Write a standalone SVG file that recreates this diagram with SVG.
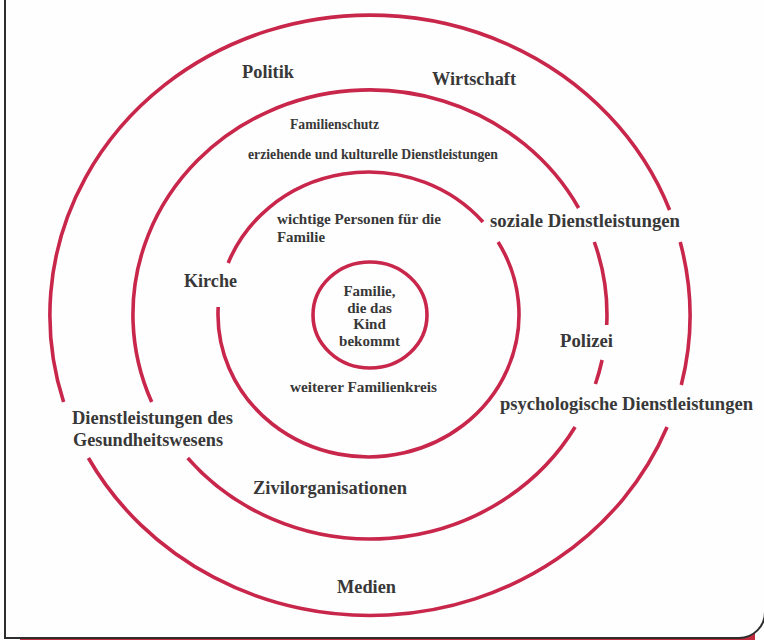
<svg xmlns="http://www.w3.org/2000/svg" width="764" height="640" viewBox="0 0 764 640">
  <style>
    .ring { fill: none; stroke: #c8274b; stroke-width: 3.6; stroke-linecap: butt; }
    .lbl { font-family: "Liberation Serif", "Times New Roman", serif; font-weight: bold; fill: #383838; }
    .lg { font-size: 18.5px; }
    .md { font-size: 15px; }
    .sm { font-size: 13.7px; }
  </style>
  <rect x="0" y="0" width="764" height="640" fill="#ffffff"/>
  <rect x="20" y="626" width="735" height="14" fill="#c22a3e"/>
  <path d="M5,-5 H765 V612 A26,26 0 0 1 739,638 H5 Z" fill="#fefefe" stroke="#2e2e2e" stroke-width="2"/>

  <g id="rings">
    <g id="ring-outer">
      <path class="ring" d="M667.1,427 A320,300 0 0 1 88.4,458"/>
      <path class="ring" d="M63.6,402 A320,300 0 0 1 669.6,210"/>
      <path class="ring" d="M680.2,242 A320,300 0 0 1 681.3,385"/>
    </g>
    <g id="ring-second">
      <path class="ring" d="M575.1,427 A237,224.5 0 0 1 187.7,458"/>
      <path class="ring" d="M151.7,402 A237,224.5 0 0 1 578.6,208"/>
      <path class="ring" d="M594.3,242 A237,224.5 0 0 1 606.7,325"/>
      <path class="ring" d="M602.1,360 A237,224.5 0 0 1 595.4,384"/>
    </g>
    <g id="ring-third">
      <path class="ring" d="M498.1,242 A150.5,142.5 0 1 1 218.2,307"/>
      <path class="ring" d="M228.2,263 A150.5,142.5 0 0 1 483,222"/>
    </g>
    <g id="ring-inner">
      <ellipse class="ring" cx="370" cy="315" rx="57" ry="53"/>
    </g>
  </g>

  <g id="connectors"></g>

  <g id="node-familie">
    <text class="lbl md" text-anchor="middle" x="369.5" y="296">Familie,</text>
    <text class="lbl md" text-anchor="middle" x="369.5" y="312.5">die das</text>
    <text class="lbl md" text-anchor="middle" x="369.5" y="329">Kind</text>
    <text class="lbl md" text-anchor="middle" x="369.5" y="345.5">bekommt</text>
  </g>
  <g id="node-weiterer">
    <text class="lbl md" x="290" y="391.5" textLength="147" lengthAdjust="spacingAndGlyphs">weiterer Familienkreis</text>
  </g>
  <g id="node-wichtige">
    <text class="lbl md" x="277" y="224" textLength="164" lengthAdjust="spacingAndGlyphs">wichtige Personen für die</text>
    <text class="lbl md" x="277" y="241.5" textLength="48" lengthAdjust="spacingAndGlyphs">Familie</text>
  </g>
  <g id="node-kirche">
    <text class="lbl lg" x="184" y="286.5" textLength="53" lengthAdjust="spacingAndGlyphs">Kirche</text>
  </g>
  <g id="node-familienschutz">
    <text class="lbl sm" x="290" y="129" textLength="89" lengthAdjust="spacingAndGlyphs">Familienschutz</text>
  </g>
  <g id="node-erziehende">
    <text class="lbl sm" x="248" y="159" textLength="250" lengthAdjust="spacingAndGlyphs">erziehende und kulturelle Dienstleistungen</text>
  </g>
  <g id="node-soziale">
    <text class="lbl lg" x="490" y="226.5" textLength="190" lengthAdjust="spacingAndGlyphs">soziale Dienstleistungen</text>
  </g>
  <g id="node-polizei">
    <text class="lbl lg" x="560" y="346.5" textLength="53" lengthAdjust="spacingAndGlyphs">Polizei</text>
  </g>
  <g id="node-psychologische">
    <text class="lbl lg" x="500" y="410" textLength="253" lengthAdjust="spacingAndGlyphs">psychologische Dienstleistungen</text>
  </g>
  <g id="node-gesundheit">
    <text class="lbl lg" x="72" y="424" textLength="161" lengthAdjust="spacingAndGlyphs">Dienstleistungen des</text>
    <text class="lbl lg" x="73" y="445.5" textLength="150" lengthAdjust="spacingAndGlyphs">Gesundheitswesens</text>
  </g>
  <g id="node-zivil">
    <text class="lbl lg" x="253" y="494" textLength="154" lengthAdjust="spacingAndGlyphs">Zivilorganisationen</text>
  </g>
  <g id="node-politik">
    <text class="lbl lg" x="242" y="77.5" textLength="52" lengthAdjust="spacingAndGlyphs">Politik</text>
  </g>
  <g id="node-wirtschaft">
    <text class="lbl lg" x="432" y="84.5" textLength="84" lengthAdjust="spacingAndGlyphs">Wirtschaft</text>
  </g>
  <g id="node-medien">
    <text class="lbl lg" x="337" y="593" textLength="59" lengthAdjust="spacingAndGlyphs">Medien</text>
  </g>
</svg>
